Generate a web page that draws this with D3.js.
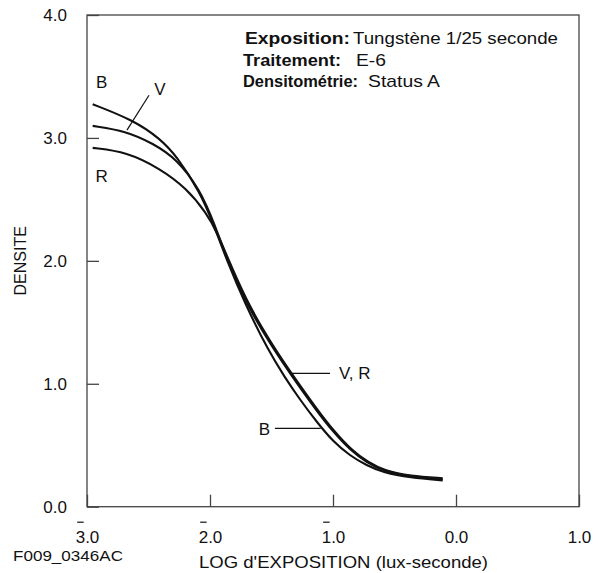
<!DOCTYPE html>
<html>
<head>
<meta charset="utf-8">
<script src="https://cdn.jsdelivr.net/npm/d3@7"></script>
<style>
  body { margin: 0; background: #fff; }
  text { font-family: "Liberation Sans", Arial, sans-serif; fill: #111; }
</style>
</head>
<body>
<div id="chart"></div>
<script>
// curve data: log exposure (x) and density (y)
var logE_B = [-2.954, -2.624, -2.407, -2.271, -2.081, -1.976, -1.862, -1.715, -1.526, -1.390, -1.268, -1.133, -0.998, -0.862, -0.726, -0.591, -0.374, -0.108];
var dens_B = [3.274, 3.145, 2.995, 2.852, 2.560, 2.310, 2.000, 1.650, 1.270, 1.050, 0.870, 0.690, 0.528, 0.415, 0.335, 0.278, 0.237, 0.213];

var logE_V = [-2.954, -2.685, -2.461, -2.271, -2.081, -1.967, -1.837, -1.691, -1.496, -1.336, -1.133, -0.998, -0.862, -0.726, -0.591, -0.374, -0.108];
var dens_V = [3.098, 3.057, 2.954, 2.830, 2.580, 2.310, 1.951, 1.626, 1.301, 1.065, 0.780, 0.608, 0.462, 0.360, 0.290, 0.245, 0.223];

var logE_R = [-2.954, -2.677, -2.407, -2.189, -2.027, -1.951, -1.825, -1.679, -1.484, -1.324, -1.121, -0.986, -0.850, -0.714, -0.579, -0.374, -0.108];
var dens_R = [2.919, 2.886, 2.751, 2.589, 2.385, 2.250, 1.951, 1.626, 1.301, 1.065, 0.780, 0.608, 0.462, 0.360, 0.292, 0.250, 0.231];

var xTicks = [-3, -2, -1, 0, 1];
var xTickLabels = ["3.0", "2.0", "1.0", "0.0", "1.0"]; // negative characteristics get a bar
var yTicks = [0, 1, 2, 3, 4];
var yTickLabels = ["0.0", "1.0", "2.0", "3.0", "4.0"];

var infoKeys = ["Exposition:", "Traitement:", "Densitométrie:"];
var infoValues = ["Tungstène 1/25 seconde", "E-6", "Status A"];

var svgWidth = 601;
var svgHeight = 573;
var margin = { top: 15, right: 22, bottom: 66.3, left: 87 };
var width = svgWidth - margin.left - margin.right;
var height = svgHeight - margin.top - margin.bottom;

var svg = d3.select("#chart")
  .append("svg")
  .attr("width", svgWidth)
  .attr("height", svgHeight);

var x = d3.scaleLinear().domain([-3, 1]).range([margin.left, margin.left + width]);
var y = d3.scaleLinear().domain([0, 4]).range([margin.top + height, margin.top]);

// frame
svg.append("rect")
  .attr("x", x(-3))
  .attr("y", y(4))
  .attr("width", x(1) - x(-3))
  .attr("height", y(0) - y(4))
  .attr("fill", "none")
  .attr("stroke", "#444")
  .attr("stroke-width", 1.3);

// left axis (inward ticks)
var leftAxis = d3.axisLeft(y)
  .tickValues(yTicks)
  .tickFormat((d, i) => yTickLabels[i])
  .tickSizeInner(-12)
  .tickSizeOuter(0)
  .tickPadding(20);

var yAxis = svg.append("g")
  .attr("transform", `translate(${x(-3)},0)`)
  .call(leftAxis);
yAxis.select(".domain").remove();
yAxis.selectAll("line").attr("stroke", "#444").attr("stroke-width", 1.3);
yAxis.selectAll("text")
  .style("font-size", "17px")
  .attr("fill", "#111");

// bottom axis
var bottomAxis = d3.axisBottom(x)
  .tickValues(xTicks)
  .tickFormat((d, i) => xTickLabels[i])
  .tickSizeInner(-12)
  .tickSizeOuter(0)
  .tickPadding(24);

var xAxis = svg.append("g")
  .attr("transform", `translate(0,${y(0)})`)
  .call(bottomAxis);
xAxis.select(".domain").remove();
xAxis.selectAll("line").attr("stroke", "#444").attr("stroke-width", 1.3);
xAxis.selectAll("text")
  .style("font-size", "17px")
  .attr("fill", "#111");

// bar over the characteristic of negative logs
xAxis.selectAll(".tick").each(function(d) {
  if (d >= 0) return;
  var t = d3.select(this).select("text").node();
  var x0 = t.getStartPositionOfChar(0).x;
  var x1 = t.getEndPositionOfChar(0).x;
  d3.select(this).append("line")
    .attr("x1", x0 + 1.5)
    .attr("x2", x1 - 1.5)
    .attr("y1", 15.5)
    .attr("y2", 15.5)
    .attr("stroke", "#111")
    .attr("stroke-width", 1.2);
});

// curves
var series = [
  { name: "B", pts: d3.zip(logE_B, dens_B) },
  { name: "V", pts: d3.zip(logE_V, dens_V) },
  { name: "R", pts: d3.zip(logE_R, dens_R) }
];

var line = d3.line()
  .x(d => x(d[0]))
  .y(d => y(d[1]))
  .curve(d3.curveBasis);

svg.append("g").selectAll("path")
  .data(series)
  .enter()
  .append("path")
  .attr("d", d => line(d.pts))
  .attr("fill", "none")
  .attr("stroke", "#111")
  .attr("stroke-width", 2.1);

// curve labels and pointers
function label(txt, lx, ly, anchor) {
  svg.append("text")
    .attr("x", x(lx))
    .attr("y", y(ly))
    .attr("dy", "0.36em")
    .attr("text-anchor", anchor)
    .style("font-size", "17px")
    .text(txt);
}
function pointer(x1, y1, x2, y2) {
  svg.append("line")
    .attr("x1", x(x1)).attr("y1", y(y1))
    .attr("x2", x(x2)).attr("y2", y(y2))
    .attr("stroke", "#111")
    .attr("stroke-width", 1.2);
}

label("B", -2.881, 3.455, "middle");
label("V", -2.407, 3.402, "middle");
pointer(-2.496, 3.347, -2.675, 3.063);
label("R", -2.881, 2.689, "middle");

label("V, R", -0.951, 1.085, "start");
pointer(-1.336, 1.085, -1.024, 1.085);
label("B", -1.512, 0.637, "end");
pointer(-1.472, 0.637, -1.10, 0.637);

// info block
var keyX = [245, 243, 243];
var keyW = [105, 98, 115];
var valX = [353, 356, 368];
var valW = [205, 30, 72];
var rowY = [44, 65.5, 87];
var info = svg.append("g");
infoKeys.forEach(function(k, i) {
  info.append("text")
    .attr("x", keyX[i])
    .attr("y", rowY[i])
    .attr("textLength", keyW[i])
    .attr("lengthAdjust", "spacingAndGlyphs")
    .style("font-size", "17px")
    .style("font-weight", "bold")
    .text(k);
  info.append("text")
    .attr("x", valX[i])
    .attr("y", rowY[i])
    .attr("textLength", valW[i])
    .attr("lengthAdjust", "spacingAndGlyphs")
    .style("font-size", "17px")
    .text(infoValues[i]);
});

// axis titles
svg.append("text")
  .attr("transform", `translate(26,${(y(0) + y(4)) / 2}) rotate(-90)`)
  .attr("text-anchor", "middle")
  .style("font-size", "16px")
  .text("DENSITE");

svg.append("text")
  .attr("x", 199)
  .attr("y", 568)
  .attr("textLength", 289)
  .attr("lengthAdjust", "spacingAndGlyphs")
  .style("font-size", "17px")
  .text("LOG d'EXPOSITION (lux-seconde)");

svg.append("text")
  .attr("x", 13)
  .attr("y", 561)
  .attr("textLength", 110)
  .attr("lengthAdjust", "spacingAndGlyphs")
  .style("font-size", "15px")
  .text("F009_0346AC");
</script>
</body>
</html>
